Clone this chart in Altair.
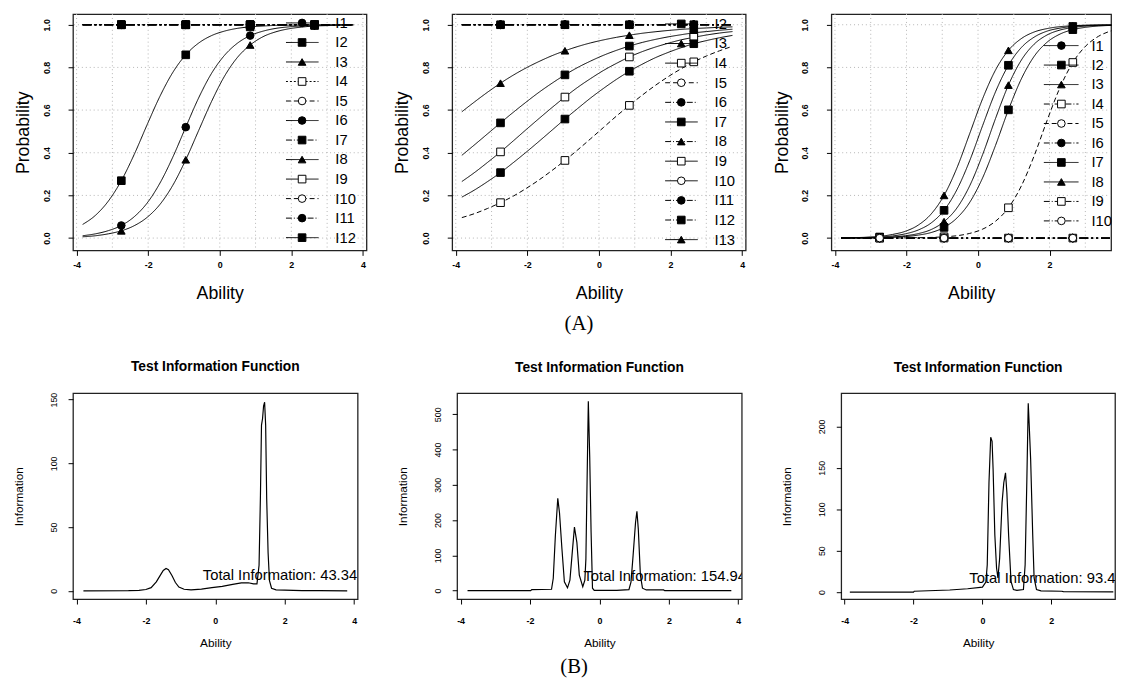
import altair as alt
import pandas as pd

# ---------------- data ----------------
GRID = [-3.83, -3.47, -3.11, -2.75, -2.39, -2.03, -1.67, -1.31, -0.95, -0.59, -0.23,
        0.13, 0.49, 0.85, 1.21, 1.57, 1.93, 2.29, 2.65, 3.01, 3.37, 3.73]
MARK_X = [-2.75, -0.95, 0.85, 2.65]

# panel A1 (12 items)
A1_ITEMS = ["I1", "I2", "I3", "I4", "I5", "I6", "I7", "I8", "I9", "I10", "I11", "I12"]
A1_I2 = [0.064, 0.107, 0.174, 0.269, 0.392, 0.531, 0.665, 0.777, 0.859, 0.914, 0.949,
         0.970, 0.983, 0.990, 0.994, 0.997, 0.998, 0.999, 1.0, 1.0, 1.0, 1.0]
A1_I6 = [0.011, 0.020, 0.035, 0.059, 0.100, 0.164, 0.258, 0.380, 0.520, 0.657, 0.772,
         0.856, 0.913, 0.949, 0.970, 0.983, 0.990, 0.994, 0.997, 0.998, 0.999, 0.999]
A1_I8 = [0.006, 0.011, 0.020, 0.034, 0.058, 0.097, 0.158, 0.248, 0.367, 0.504, 0.640,
         0.758, 0.846, 0.905, 0.944, 0.967, 0.981, 0.989, 0.994, 0.996, 0.998, 0.999]
A1_FLAT_ITEMS = ["I1", "I3", "I4", "I5", "I7", "I9", "I10", "I11", "I12"]
A1_FLAT_LEVEL = 1.0

# panel A2 (13 items; the I1 legend entry lies above the plot and is not shown)
A2_ITEMS = ["I1", "I2", "I3", "I4", "I5", "I6", "I7", "I8", "I9", "I10", "I11", "I12", "I13"]
A2_LEGEND_ITEMS = ["I2", "I3", "I4", "I5", "I6", "I7", "I8", "I9", "I10", "I11", "I12", "I13"]
A2_I13 = [0.592, 0.639, 0.684, 0.726, 0.764, 0.798, 0.828, 0.855, 0.878, 0.898, 0.915,
          0.929, 0.941, 0.951, 0.960, 0.967, 0.973, 0.978, 0.982, 0.985, 0.988, 0.990]
A2_I7 = [0.388, 0.438, 0.489, 0.540, 0.590, 0.638, 0.684, 0.726, 0.765, 0.800, 0.830,
         0.857, 0.880, 0.900, 0.917, 0.931, 0.943, 0.953, 0.962, 0.968, 0.974, 0.979]
A2_I9 = [0.265, 0.308, 0.355, 0.404, 0.456, 0.509, 0.561, 0.612, 0.661, 0.707, 0.748,
         0.786, 0.819, 0.849, 0.874, 0.895, 0.913, 0.929, 0.941, 0.952, 0.961, 0.968]
A2_I2 = [0.192, 0.226, 0.265, 0.307, 0.354, 0.403, 0.454, 0.506, 0.558, 0.608, 0.657,
         0.702, 0.744, 0.782, 0.815, 0.845, 0.870, 0.892, 0.911, 0.926, 0.939, 0.950]
A2_I4 = [0.096, 0.115, 0.139, 0.166, 0.197, 0.233, 0.273, 0.317, 0.364, 0.414, 0.466,
         0.519, 0.572, 0.622, 0.670, 0.715, 0.756, 0.793, 0.826, 0.854, 0.878, 0.899]
A2_FLAT_ITEMS = ["I1", "I3", "I5", "I6", "I8", "I10", "I11", "I12"]
A2_FLAT_LEVEL = 1.0

# panel A3 (10 items)
A3_ITEMS = ["I1", "I2", "I3", "I4", "I5", "I6", "I7", "I8", "I9", "I10"]
A3_I8 = [0.001, 0.002, 0.004, 0.008, 0.017, 0.032, 0.061, 0.113, 0.200, 0.329, 0.491,
         0.654, 0.788, 0.880, 0.935, 0.966, 0.982, 0.991, 0.995, 0.998, 0.999, 0.999]
A3_I7 = [0.001, 0.001, 0.003, 0.005, 0.010, 0.020, 0.038, 0.071, 0.130, 0.227, 0.364,
         0.528, 0.686, 0.810, 0.893, 0.942, 0.970, 0.984, 0.992, 0.996, 0.998, 0.999]
A3_I3 = [0.000, 0.001, 0.001, 0.003, 0.005, 0.011, 0.021, 0.040, 0.077, 0.141, 0.246,
         0.392, 0.561, 0.717, 0.834, 0.909, 0.952, 0.975, 0.987, 0.994, 0.997, 0.998]
A3_I2 = [0.000, 0.000, 0.001, 0.002, 0.004, 0.007, 0.014, 0.026, 0.050, 0.094, 0.168,
         0.283, 0.435, 0.601, 0.746, 0.852, 0.918, 0.956, 0.977, 0.988, 0.994, 0.997]
A3_I9 = [0.000, 0.000, 0.000, 0.000, 0.000, 0.001, 0.002, 0.003, 0.006, 0.011, 0.022,
         0.042, 0.079, 0.142, 0.244, 0.386, 0.551, 0.705, 0.823, 0.900, 0.946, 0.972]
A3_FLAT_ITEMS = ["I1", "I4", "I5", "I6", "I10"]
A3_FLAT_LEVEL = 0.0

# test information functions
B1_X = [-3.8, -2.5, -2.2, -2.0, -1.85, -1.7, -1.6, -1.5, -1.42, -1.35, -1.25, -1.15, -1.05,
        -0.9, -0.7, -0.4, -0.1, 0.2, 0.5, 0.75, 0.95, 1.1, 1.2, 1.26, 1.3, 1.33, 1.36, 1.39,
        1.42, 1.45, 1.48, 1.52, 1.56, 1.62, 1.75, 2.0, 2.5, 3.0, 3.8]
B1_Y = [0, 0.1, 0.4, 1.0, 2.5, 7, 11.5, 16, 17.5, 16.5, 12, 6.5, 3,
        1.2, 0.8, 1.3, 2.5, 3.5, 5, 6.2, 6.3, 5.5, 5.5, 20, 75, 130, 135, 145,
        148, 130, 72, 30, 8, 2, 0.8, 0.5, 0.2, 0.1, 0]
B2_X = [-3.8, -1.98, -1.95, -1.38, -1.33, -1.27, -1.2, -1.15, -1.08, -1.01, -0.92, -0.85,
        -0.79, -0.72, -0.65, -0.58, -0.48, -0.42, -0.39, -0.36, -0.32, -0.28, -0.24, -0.2,
        -0.15, 0.5, 0.85, 0.91, 0.97, 1.04, 1.08, 1.12, 1.18, 1.24, 1.35, 1.85, 1.88, 3.8]
B2_Y = [0, 0, 3, 4, 35, 155, 262, 220, 118, 25, 8, 30,
        100, 180, 137, 44, 11, 30, 90, 285, 537, 379, 165, 7,
        1, 1, 3, 25, 100, 193, 225, 174, 44, 7, 2, 2, 0, 0]
B3_X = [-3.85, -2.0, -1.98, -0.95, -0.43, 0.0, 0.1, 0.14, 0.19, 0.24, 0.28, 0.31, 0.36,
        0.41, 0.45, 0.5, 0.57, 0.62, 0.67, 0.71, 0.76, 0.83, 0.9, 1.0, 1.19, 1.24, 1.29,
        1.33, 1.36, 1.4, 1.46, 1.5, 1.57, 1.7, 2.3, 2.35, 3.8]
B3_Y = [0, 0, 1, 2.5, 4, 6, 12, 33, 132, 187, 182, 148, 69,
        29, 17, 41, 108, 132, 144, 120, 69, 13, 3, 2, 3, 33, 136,
        228, 200, 160, 69, 17, 3, 1.5, 1, 0.5, 0.3]

B_LABELS = ["Total Information: 43.341", "Total Information: 154.94", "Total Information: 93.483"]

TOP_GRID_X = [-4, -3, -2, -1, 0, 1, 2, 3, 4]
TOP_GRID_Y = [0, 0.2, 0.4, 0.6, 0.8, 1.0]

# ---------------- styles ----------------
PCH_CYCLE = ["fcircle", "fsquare", "ftri", "osquare", "ocircle"]
PCH_SHAPES = ["circle", "square", "triangle-up", "square", "circle"]
PCH_FILLS = ["black", "black", "black", "white", "white"]
DASH_NAMES = ["solid", "dash", "dot", "dotdash", "flat"]
DASH_PATTERNS = [[1, 0], [5, 3], [2, 2], [6, 2, 1, 2], [9, 3, 2, 3, 2, 3]]

A1_LDASH = ["solid", "solid", "solid", "dot", "dash", "solid", "dotdash", "solid", "solid",
            "dash", "dotdash", "solid"]
A2_LDASH = ["solid", "solid", "solid", "dash", "dotdash", "solid", "dotdash", "solid",
            "solid", "dotdash", "dotdash", "solid"]
A3_LDASH = ["solid", "solid", "solid", "dotdash", "dash", "dotdash", "solid", "solid",
            "dotdash", "dotdash"]

FONT = "Liberation Sans"
MARK_SIZE = 60

shape_scale = alt.Scale(domain=PCH_CYCLE, range=PCH_SHAPES)
fill_scale = alt.Scale(domain=PCH_CYCLE, range=PCH_FILLS)
dash_scale = alt.Scale(domain=DASH_NAMES, range=DASH_PATTERNS)


def top_axes(xvals):
    ax = alt.Axis(values=xvals, labelExpr="'' + datum.value", title="Ability",
                  titleFontSize=18, titleFontWeight="normal", labelFontSize=9,
                  labelFontWeight="bold", tickSize=5, labelPadding=5, titlePadding=16,
                  labelFlush=False, labelOverlap=False, domain=False, grid=False)
    ay = alt.Axis(values=TOP_GRID_Y, format=".1f", labelAngle=270, labelAlign="center",
                  labelBaseline="bottom", title="Probability", titleFontSize=18,
                  titleFontWeight="normal", labelFontSize=9, labelFontWeight="bold",
                  tickSize=5, labelPadding=17, titlePadding=10, labelFlush=False,
                  labelOverlap=False, domain=False, grid=False)
    return ax, ay


def icc_panel(items, leg_items, ldash, curves, curve_dash, flat_items, flat_level, xdom, xvals,
              leg_range, leg_x, width, height):
    pchs = {it: PCH_CYCLE[i % 5] for i, it in enumerate(items)}
    line_rows, pt_rows = [], []
    for it, vals in curves.items():
        for x, p in zip(GRID, vals):
            line_rows.append({"item": it, "x": x, "p": p, "dash": curve_dash.get(it, "solid")})
            if x in MARK_X:
                pt_rows.append({"item": it, "x": x, "p": p, "pch": pchs[it]})
    for it in flat_items:
        for x in (GRID[0], GRID[-1]):
            line_rows.append({"item": it, "x": x, "p": flat_level, "dash": "flat"})
        for x in MARK_X:
            pt_rows.append({"item": it, "x": x, "p": flat_level, "pch": pchs[it]})
    line_df = pd.DataFrame(line_rows)
    pt_df = pd.DataFrame(pt_rows)
    leg_df = pd.DataFrame({"item": leg_items, "pch": [pchs[i] for i in leg_items], "ldash": ldash})

    xs = alt.Scale(domain=xdom, nice=False, zero=False)
    ys = alt.Scale(domain=[-0.058, 1.05], nice=False, zero=False)
    ax, ay = top_axes(xvals)

    gridv = alt.Chart(pd.DataFrame({"g": TOP_GRID_X})).mark_rule(
        color="#b5b5b5", strokeDash=[1, 3], strokeWidth=1, clip=True
    ).encode(x=alt.X("g:Q", scale=xs, axis=ax))
    gridh = alt.Chart(pd.DataFrame({"g": TOP_GRID_Y})).mark_rule(
        color="#b5b5b5", strokeDash=[1, 3], strokeWidth=1, clip=True
    ).encode(y=alt.Y("g:Q", scale=ys, axis=ay))
    lines = alt.Chart(line_df).mark_line(color="black", strokeWidth=1, interpolate="monotone").encode(
        x=alt.X("x:Q", scale=xs, axis=ax),
        y=alt.Y("p:Q", scale=ys, axis=ay),
        detail="item:N",
        strokeDash=alt.StrokeDash("dash:N", scale=dash_scale, legend=None),
    )
    pts = alt.Chart(pt_df).mark_point(filled=True, stroke="black", strokeWidth=1, size=MARK_SIZE,
                                      opacity=1).encode(
        x=alt.X("x:Q", scale=xs, axis=ax),
        y=alt.Y("p:Q", scale=ys, axis=ay),
        shape=alt.Shape("pch:N", scale=shape_scale, legend=None),
        fill=alt.Fill("pch:N", scale=fill_scale, legend=None),
    )
    main = alt.layer(gridv, gridh, lines, pts)

    ly = alt.Y("item:N", sort=leg_items, axis=None,
               scale=alt.Scale(type="point", domain=leg_items, range=leg_range, padding=0))
    lx1, lx2, lxm, ltx = leg_x
    leg_rule = alt.Chart(leg_df).mark_rule(color="black", strokeWidth=1).encode(
        x=alt.XDatum(lx1, scale=xs, axis=ax), x2=alt.X2Datum(lx2), y=ly,
        strokeDash=alt.StrokeDash("ldash:N", scale=dash_scale, legend=None),
    )
    leg_pt = alt.Chart(leg_df).mark_point(filled=True, stroke="black", strokeWidth=1, size=MARK_SIZE,
                                          opacity=1).encode(
        x=alt.XDatum(lxm, scale=xs, axis=ax), y=ly,
        shape=alt.Shape("pch:N", scale=shape_scale, legend=None),
        fill=alt.Fill("pch:N", scale=fill_scale, legend=None),
    )
    leg_txt = alt.Chart(leg_df).mark_text(align="left", baseline="middle", fontSize=15,
                                          font=FONT, color="black").encode(
        x=alt.XDatum(ltx, scale=xs, axis=ax), y=ly, text="item:N",
    )
    legend = alt.layer(leg_rule, leg_pt, leg_txt)
    return alt.layer(main, legend).resolve_scale(y="independent").properties(width=width, height=height)


def tif_panel(xv, yv, label, lpos, xdom, ydom, xvals, yvals, width, height):
    xs = alt.Scale(domain=xdom, nice=False, zero=False)
    ys = alt.Scale(domain=ydom, nice=False, zero=False)
    ax = alt.Axis(values=xvals, labelExpr="'' + datum.value", title="Ability", titleFontSize=12,
                  titleFontWeight="normal", labelFontSize=9, labelFontWeight="bold", tickSize=5,
                  labelPadding=13, titlePadding=12, labelFlush=False, labelOverlap=False,
                  domain=False, grid=False)
    ay = alt.Axis(values=yvals, labelAngle=270, labelAlign="center", labelBaseline="bottom",
                  title="Information", titleFontSize=12, titleFontWeight="normal",
                  labelFontSize=9, labelFontWeight="normal", tickSize=5, labelPadding=10,
                  titlePadding=24, labelFlush=False, labelOverlap=False, domain=False, grid=False)
    line = alt.Chart(pd.DataFrame({"x": xv, "y": yv})).mark_line(color="black", strokeWidth=1.2).encode(
        x=alt.X("x:Q", scale=xs, axis=ax), y=alt.Y("y:Q", scale=ys, axis=ay))
    ann = alt.Chart(pd.DataFrame({"x": [lpos[0]], "y": [lpos[1]], "t": [label]})).mark_text(
        align="left", baseline="middle", fontSize=15, font=FONT, color="black", clip=True
    ).encode(x=alt.X("x:Q", scale=xs, axis=ax), y=alt.Y("y:Q", scale=ys, axis=ay), text="t:N")
    return alt.layer(line, ann).properties(
        width=width, height=height,
        title=alt.TitleParams("Test Information Function", font=FONT, fontSize=14,
                              fontWeight="bold", color="black", offset=19))


A1 = icc_panel(A1_ITEMS, A1_ITEMS, A1_LDASH, {"I2": A1_I2, "I6": A1_I6, "I8": A1_I8}, {},
               A1_FLAT_ITEMS, A1_FLAT_LEVEL, [-4.1, 4.1], [-4, -2, 0, 2, 4],
               [9, 227], (1.85, 2.76, 2.3, 3.23), 298, 240)
A2 = icc_panel(A2_ITEMS, A2_LEGEND_ITEMS, A2_LDASH,
               {"I13": A2_I13, "I7": A2_I7, "I9": A2_I9, "I2": A2_I2, "I4": A2_I4},
               {"I4": "dash"}, A2_FLAT_ITEMS, A2_FLAT_LEVEL, [-4.1, 4.1], [-4, -2, 0, 2, 4],
               [10, 229], (1.85, 2.76, 2.3, 3.23), 298, 240)
A3 = icc_panel(A3_ITEMS, A3_ITEMS, A3_LDASH,
               {"I8": A3_I8, "I7": A3_I7, "I3": A3_I3, "I2": A3_I2, "I9": A3_I9},
               {"I9": "dash"}, A3_FLAT_ITEMS, A3_FLAT_LEVEL, [-4.1, 3.72], [-4, -2, 0, 2],
               [32, 210], (1.84, 2.81, 2.33, 3.17), 284, 240)

B1 = tif_panel(B1_X, B1_Y, B_LABELS[0], (-0.36, 12), [-4.1, 4.1], [-6.5, 155],
               [-4, -2, 0, 2, 4], [0, 50, 100, 150], 289, 209)
B2 = tif_panel(B2_X, B2_Y, B_LABELS[1], (-0.46, 41), [-4.1, 4.1], [-24, 559.5],
               [-4, -2, 0, 2, 4], [0, 100, 200, 300, 400, 500], 289, 209)
B3 = tif_panel(B3_X, B3_Y, B_LABELS[2], (-0.38, 17), [-4.1, 3.85], [-8.5, 240],
               [-4, -2, 0, 2], [0, 50, 100, 150, 200], 278, 209)

row1 = alt.hconcat(A1, A2, A3, spacing=26).properties(
    title=alt.TitleParams("(A)", orient="bottom", anchor="middle", dx=15, font="Liberation Serif",
                          fontSize=21, fontWeight="normal", color="black", offset=10))
row2 = alt.hconcat(B1, B2, B3, spacing=38).properties(
    title=alt.TitleParams("(B)", orient="bottom", anchor="middle", dx=10, font="Liberation Serif",
                          fontSize=21, fontWeight="normal", color="black", offset=7))

chart = alt.vconcat(row1, row2, spacing=25).properties(
    padding={"left": 4, "top": 0, "right": 0, "bottom": 0}, background="white"
).configure_view(stroke="#222222", strokeWidth=1.3).configure_axis(
    labelFont=FONT, titleFont=FONT, labelColor="black", titleColor="black", tickColor="black"
)

chart.save("out.html", embed_options={"renderer": "svg", "actions": False})
